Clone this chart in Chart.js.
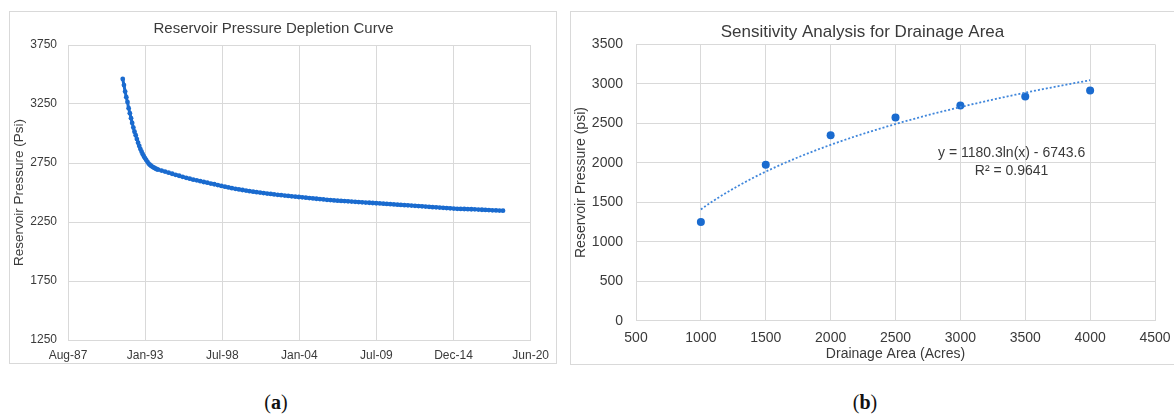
<!DOCTYPE html>
<html>
<head>
<meta charset="utf-8">
<script src="https://cdn.jsdelivr.net/npm/chart.js@4.4.1/dist/chart.umd.min.js"></script>
<style>
  html, body { margin: 0; padding: 0; background: #fff; width: 1174px; height: 414px; overflow: hidden; }
  .frame { position: absolute; border: 1px solid #d9d9d9; box-sizing: border-box; }
  canvas { position: absolute; }
  .caption { position: absolute; top: 391px; width: 60px; margin-left: -30px; text-align: center;
             font: 20px "Liberation Serif", "DejaVu Serif", serif; color: #111; }
</style>
</head>
<body>
<div class="frame" style="left:9px;top:11px;width:548px;height:353px"></div>
<canvas id="chartA" width="548" height="352" style="left:9px;top:11px"></canvas>
<div class="frame" style="left:570px;top:11px;width:620px;height:354px"></div>
<canvas id="chartB" width="620" height="353" style="left:570px;top:11px"></canvas>
<div class="caption" style="left:276px">(<b>a</b>)</div>
<div class="caption" style="left:865px">(<b>b</b>)</div>

<script>
// (a) reservoir pressure depletion
// monthly readings for the steep start, Jul-91 .. Dec-93
const monthlyStart = [1991, 7];
const monthlyPsi = [
  3462, 3410, 3355, 3308, 3266, 3215, 3172, 3130, 3090, 3050, 3015, 2985,
  2953, 2922, 2895, 2868, 2846, 2825, 2806, 2790, 2775, 2760, 2745, 2735,
  2727, 2720, 2713, 2708, 2702, 2697,
];
// quarterly readings, Jan-94 .. Jul-18
const quarterlyStart = [1994, 1];
const quarterlyPsi = [
  2694, 2686, 2677, 2668,  2659, 2650, 2642, 2633,  2624, 2617, 2609, 2603,
  2596, 2589, 2583, 2576,  2570, 2563, 2556, 2549,  2543, 2537, 2531, 2526,
  2521, 2516, 2511, 2507,  2503, 2499, 2495, 2491,  2488, 2484, 2480, 2477,
  2474, 2471, 2468, 2465,  2462, 2459, 2456, 2453,  2450, 2447, 2444, 2441,
  2438, 2436, 2433, 2431,  2429, 2427, 2425, 2423,  2421, 2419, 2417, 2415,
  2413, 2411, 2409, 2407,  2405, 2403, 2401, 2399,  2397, 2395, 2393, 2391,
  2389, 2387, 2385, 2383,  2381, 2379, 2376, 2374,  2372, 2370, 2368, 2366,
  2364, 2362, 2361, 2360,  2359, 2358, 2357, 2355,  2354, 2352, 2351, 2349,
  2348, 2347, 2346,
];
// Excel date axis: serial 32000 .. 44000, major unit 2000 days
const dateTickLabels = ['Aug-87', 'Jan-93', 'Jul-98', 'Jan-04', 'Jul-09', 'Dec-14', 'Jun-20'];
const dateAxisMin = 32000, dateAxisMax = 44000, dateAxisStep = 2000;

// (b) sensitivity for drainage area
const drainageAcres = [1000, 1500, 2000, 2500, 3000, 3500, 4000];
const drainagePsi = [1250, 1975, 2350, 2575, 2725, 2840, 2915];
// log trendline printed on the chart: y = 1180.3 ln(x) - 6743.6
const trendSlope = 1180.3, trendIntercept = -6743.6;
const trendLines = ['y = 1180.3ln(x) - 6743.6', 'R\u00b2 = 0.9641'];
const trendLabelAt = [3395, 2120];

const BLUE = '#1a6bcf';
const TREND = '#3f86db';
const TEXT = '#3a3a3a';
const GRID = '#d9d9d9';
const FONT = '"Liberation Sans", Arial, sans-serif';

Chart.defaults.font.family = FONT;
Chart.defaults.color = TEXT;

function excelSerial(y, m) {
  return (Date.UTC(y, m - 1, 1) - Date.UTC(1899, 11, 30)) / 86400000;
}

function seriesFrom(start, stepMonths, values) {
  return values.map((v, i) => {
    const k = start[1] - 1 + i * stepMonths;
    return { x: excelSerial(start[0] + Math.floor(k / 12), (k % 12) + 1), y: v };
  });
}

const depletion = seriesFrom(monthlyStart, 1, monthlyPsi).concat(seriesFrom(quarterlyStart, 3, quarterlyPsi));

new Chart(document.getElementById('chartA'), {
  type: 'scatter',
  data: {
    datasets: [{
      data: depletion, showLine: true, tension: 0,
      borderColor: BLUE, backgroundColor: BLUE, borderWidth: 3,
      pointRadius: 2.4, pointBorderWidth: 0, pointHoverRadius: 0,
    }],
  },
  options: {
    responsive: false, animation: false,
    layout: { padding: { left: 0, right: 19, top: 0, bottom: 0 } },
    plugins: {
      legend: { display: false }, tooltip: { enabled: false },
      title: { display: true, text: 'Reservoir Pressure Depletion Curve', color: TEXT,
               font: { size: 15, weight: 'normal' }, padding: { top: 9, bottom: 7 } },
    },
    scales: {
      x: {
        type: 'linear', min: dateAxisMin, max: dateAxisMax,
        ticks: { stepSize: dateAxisStep, autoSkip: false, maxRotation: 0, padding: 8,
                 font: { size: 12 }, color: TEXT,
                 callback: (v) => dateTickLabels[Math.round((v - dateAxisMin) / dateAxisStep)] },
        grid: { color: GRID, drawTicks: false }, border: { color: GRID },
        afterFit: (s) => { s.height = 23; },
      },
      y: {
        min: 1250, max: 3750,
        ticks: { stepSize: 500, padding: 11, font: { size: 12 }, color: TEXT, callback: (v) => String(v) },
        grid: { color: GRID, drawTicks: false }, border: { color: GRID },
        title: { display: true, text: 'Reservoir Pressure (Psi)', color: TEXT,
                 font: { size: 13.5 }, padding: { top: 2, bottom: 0 } },
        afterFit: (s) => { s.width = 59; },
      },
    },
  },
});

const trendPoints = [];
for (let a = drainageAcres[0]; a <= drainageAcres[drainageAcres.length - 1]; a += 25) {
  trendPoints.push({ x: a, y: trendSlope * Math.log(a) + trendIntercept });
}

const trendLabel = {
  id: 'trendLabel',
  afterDatasetsDraw(chart) {
    const { ctx, scales: { x, y } } = chart;
    const cx = x.getPixelForValue(trendLabelAt[0]);
    const cy = y.getPixelForValue(trendLabelAt[1]);
    ctx.save();
    ctx.font = '14px ' + FONT;
    ctx.fillStyle = TEXT;
    ctx.textAlign = 'center';
    ctx.textBaseline = 'middle';
    trendLines.forEach((t, i) => ctx.fillText(t, cx, cy + i * 17.4));
    ctx.restore();
  },
};

new Chart(document.getElementById('chartB'), {
  type: 'scatter',
  data: {
    datasets: [
      {
        data: trendPoints, showLine: true, tension: 0, pointRadius: 0,
        borderColor: TREND, borderWidth: 1.8, borderDash: [2, 2],
      },
      {
        data: drainageAcres.map((a, i) => ({ x: a, y: drainagePsi[i] })),
        backgroundColor: BLUE, borderColor: BLUE, pointRadius: 4, pointBorderWidth: 0, pointHoverRadius: 0,
      },
    ],
  },
  options: {
    responsive: false, animation: false,
    layout: { padding: { left: 0, right: 35, top: 0, bottom: 0 } },
    plugins: {
      legend: { display: false }, tooltip: { enabled: false },
      title: { display: true, text: 'Sensitivity Analysis for Drainage Area', color: TEXT,
               font: { size: 17, weight: 'normal' }, padding: { top: 11, bottom: 2 } },
    },
    scales: {
      x: {
        type: 'linear', min: 500, max: 4500,
        ticks: { stepSize: 500, autoSkip: false, maxRotation: 0, padding: 9,
                 font: { size: 14 }, color: TEXT, callback: (v) => String(v) },
        grid: { color: GRID, drawTicks: false }, border: { color: GRID },
        title: { display: true, text: 'Drainage Area (Acres)', color: TEXT,
                 font: { size: 14 }, padding: { top: 0, bottom: 1 } },
        afterFit: (s) => { s.height = 43.3; },
      },
      y: {
        min: 0, max: 3500,
        ticks: { stepSize: 500, padding: 13, font: { size: 14 }, color: TEXT, callback: (v) => String(v) },
        grid: { color: GRID, drawTicks: false }, border: { color: GRID },
        title: { display: true, text: 'Reservoir Pressure (psi)', color: TEXT,
                 font: { size: 14 }, padding: { top: 3, bottom: 0 } },
        afterFit: (s) => { s.width = 66; },
      },
    },
  },
  plugins: [trendLabel],
});
</script>
</body>
</html>
